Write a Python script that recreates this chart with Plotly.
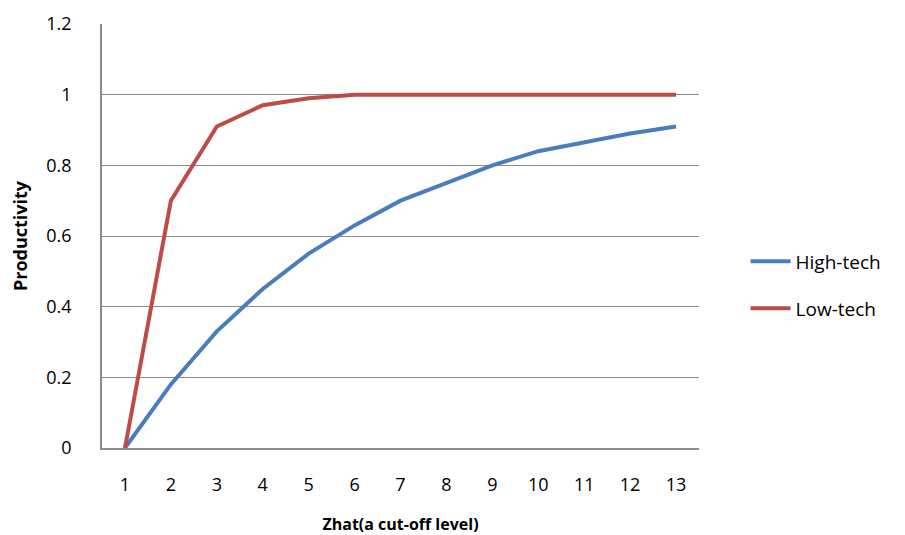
import plotly.graph_objects as go

# Cut-off levels and productivity by sector
zhat = [1, 2, 3, 4, 5, 6, 7, 8, 9, 10, 11, 12, 13]
high_tech = [0, 0.18, 0.33, 0.45, 0.55, 0.63, 0.70, 0.75, 0.80, 0.84, 0.865, 0.89, 0.91]
low_tech = [0, 0.70, 0.91, 0.97, 0.99, 1.0, 1.0, 1.0, 1.0, 1.0, 1.0, 1.0, 1.0]
y_ticks = [0, 0.2, 0.4, 0.6, 0.8, 1, 1.2]
y_tick_text = ["0", "0.2", "0.4", "0.6", "0.8", "1", "1.2"]

FONT = "Open Sans, DejaVu Sans, sans-serif"
GRID = "#8c8c8c"

fig = go.Figure()
fig.add_trace(go.Scatter(x=zhat, y=high_tech, mode="lines", name="High-tech",
                         line=dict(color="#4a7ebb", width=4), legend="legend"))
fig.add_trace(go.Scatter(x=zhat, y=low_tech, mode="lines", name="Low-tech",
                         line=dict(color="#be4b48", width=4), legend="legend2"))

legend_style = dict(xanchor="left", yanchor="middle",
                    font=dict(size=19, color="#000000"),
                    itemwidth=40, bgcolor="rgba(0,0,0,0)")

fig.update_layout(
    width=905, height=535,
    margin=dict(l=102, r=206, t=24, b=87),
    paper_bgcolor="white", plot_bgcolor="white",
    font=dict(family=FONT, size=16, color="#000000"),
    showlegend=True,
    legend=dict(x=1.078, y=0.44, **legend_style),
    legend2=dict(x=1.078, y=0.329, **legend_style),
    xaxis=dict(
        range=[0.5, 13.5], tickmode="array", tickvals=zhat,
        ticktext=[str(v) for v in zhat],
        showgrid=False, zeroline=False, automargin=False,
        showline=True, linecolor=GRID, linewidth=1.5,
        ticks="", ticklabelstandoff=20,
        tickfont=dict(size=18),
        title=dict(text="<b>Zhat(a cut-off level)</b>", font=dict(size=16), standoff=24),
    ),
    yaxis=dict(
        range=[0, 1.2], tickmode="array", tickvals=y_ticks, ticktext=y_tick_text,
        showgrid=True, gridcolor=GRID, gridwidth=1.2, automargin=False,
        zeroline=False, showline=True, linecolor=GRID, linewidth=1.5,
        ticks="", ticklabelstandoff=25,
        tickfont=dict(size=18),
        title=dict(text="<b>Productivity</b>", font=dict(size=18), standoff=14),
    ),
)

fig.write_html("out.html")
